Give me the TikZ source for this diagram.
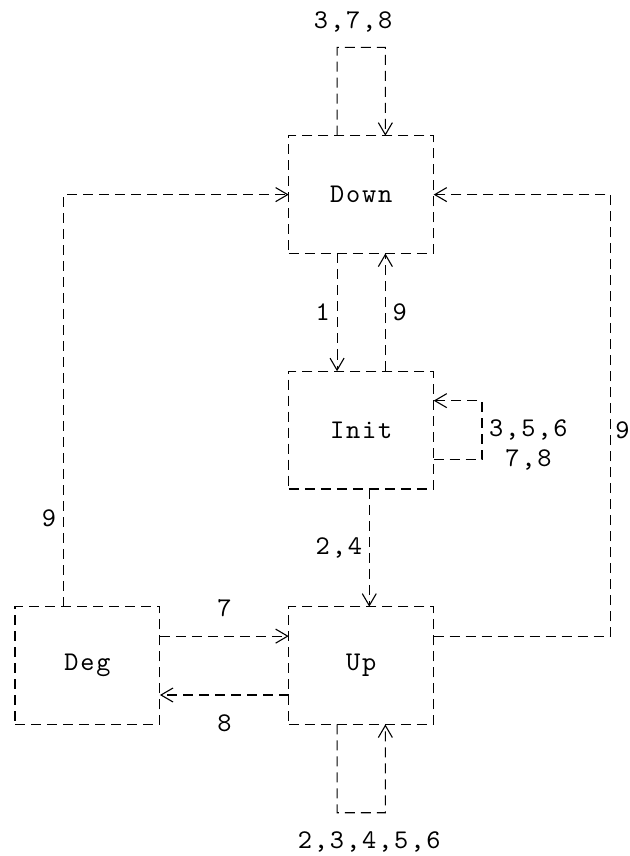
\documentclass[tikz,border=0pt]{standalone}
\usepackage{fontspec}
\setmonofont{lmmono10-regular.otf}[LetterSpace=7]
\usetikzlibrary{positioning, arrows.meta, calc}

\begin{document}
\begin{tikzpicture}[x=8.05pt, y=14.715pt, >={Straight Barb[length=6pt, width=7pt]},
    node distance=117.72pt and 136.85pt, on grid,
    font=\ttfamily\fontsize{13.5}{14.715}\selectfont, line width=0.55pt,
    dash pattern=on 5pt off 3pt,
    state/.style={draw, rectangle, minimum width=72.45pt, minimum height=58.86pt, inner sep=0pt, outer sep=0pt}]
    \useasboundingbox (-0.932,0.612) rectangle (38.14,-28.47);

    \node[state] (Down) at (21.5,-6) {Down};
    \node[state] (Init) [below=of Down] {Init};
    \node[state] (Up)   [below=of Init] {Up};
    \node[state] (Deg)  [left=of Up] {Deg};

    % loops on one state
    \draw[->] ($(Down.north)+(-1.5,0)$) -- ++(0,3) -- node[above=4pt, xshift=-4pt] {3,7,8} ++(3,0) -- ($(Down.north)+(1.5,0)$);
    \draw[->] ($(Init.east)+(0,-1)$) -- ++(3,0) -- ++(0,2) node[right, align=center, pos=0.25] {3,5,6\\7,8} -- ($(Init.east)+(0,1)$);
    \draw[->] ($(Up.south)+(-1.5,0)$) -- ++(0,-3) -- node[below=6pt, xshift=4pt] {2,3,4,5,6} ++(3,0) -- ($(Up.south)+(1.5,0)$);

    \path[->]
        ($(Down.south)+(-1.5,0)$) edge node[left] {1} ($(Init.north)+(-1.5,0)$)
        ($(Init.north)+(1.5,0)$)  edge node[right] {9} ($(Down.south)+(1.5,0)$)
        ($(Init.south)+(0.5,0)$)  edge node[left] {2,4} ($(Up.north)+(0.5,0)$)
        ($(Deg.east)+(0,1)$)      edge node[above=6pt] {7} ($(Up.west)+(0,1)$)
        ($(Up.west)+(0,-1)$)      edge node[below=6pt] {8} ($(Deg.east)+(0,-1)$);

    % back to Down
    \draw[->] ($(Deg.north)+(-1.5,0)$) |- node[left, pos=0.107] {9} (Down.west);
    \draw[->] ($(Up.east)+(0,1)$) -| node[right, inner sep=2pt, pos=0.733] {9} ($(Down.east)+(11,0)$) -- (Down.east);
\end{tikzpicture}
\end{document}
